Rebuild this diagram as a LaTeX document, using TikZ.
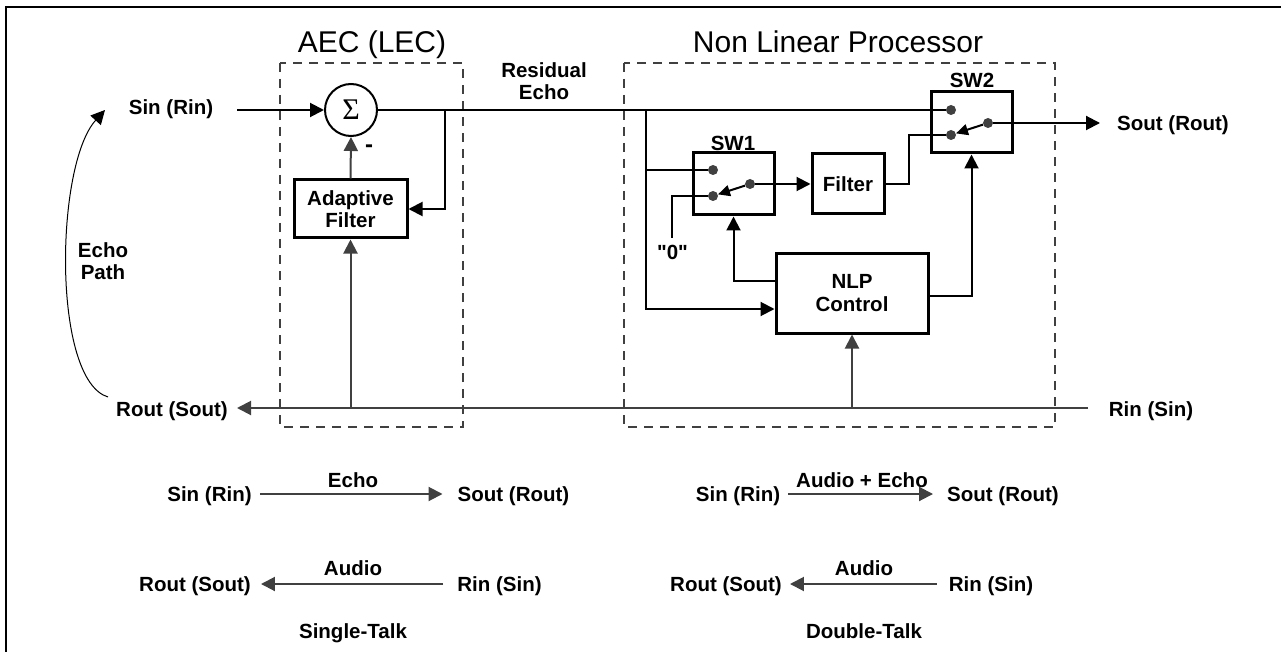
\documentclass[tikz,border=0pt]{standalone}
\usepackage{fontspec}
\setmainfont{Liberation Sans}
\newfontfamily\sigfont{Liberation Serif}
\newfontfamily\plainsans[Ligatures=TeXOff]{Liberation Sans}
\usetikzlibrary{arrows.meta,calc}
\definecolor{dg}{HTML}{404040}
\begin{document}
\begin{tikzpicture}[x=1pt,y=-1pt,
  lbl/.style={font=\bfseries\fontsize{20.5}{22.5}\selectfont, inner sep=0, text height=15pt, text depth=0.4pt},
  mlbl/.style={font=\bfseries\fontsize{20.5}{22.5}\selectfont, inner sep=0, align=center},
  ttl/.style={font=\fontsize{30}{32}\selectfont, inner sep=0, anchor=base},
  box/.style={draw, line width=3pt, inner sep=0, align=center, font=\bfseries\fontsize{20.5}{22.5}\selectfont},
  wire/.style={line width=2pt, black},
  gwire/.style={line width=2pt, dg},
  tri/.style={-{Triangle[length=14pt,width=14pt]}},
  stri/.style={-{Triangle[length=12pt,width=11pt]}},
  dot/.style={circle, fill=dg, inner sep=0, minimum size=10pt},
  dashbox/.style={dg, line width=2pt, dash pattern=on 9pt off 7pt},
]
\useasboundingbox (0,0) rectangle (1281,652);
% frame
\draw[line width=2.5pt] (6,652) -- (6,7) -- (1281,7);

% dashed containers and titles
\draw[dashbox] (280,63) rectangle (463,427);
\draw[dashbox] (624,63) rectangle (1055,427);
\node[ttl] (taec) at (372,53) {AEC (LEC)};
\node[ttl] (tnlp) at (838,53) {Non Linear Processor};

% main nodes
\node[draw, circle, line width=2pt, minimum size=52pt, inner sep=0] (sig) at (351,110) {\sigfont\fontsize{30}{30}\selectfont Σ};
\node[box, minimum width=113pt, minimum height=58pt] (af) at (350.5,209) {Adaptive\\Filter};
\node[box, minimum width=81pt, minimum height=62pt] (sw1) at (733.5,184) {};
\node[box, minimum width=72pt, minimum height=60pt] (filt) at (848,184) {Filter};
\node[box, minimum width=81pt, minimum height=61pt] (sw2) at (971.5,122.5) {};
\node[box, minimum width=152pt, minimum height=80pt] (nlp) at (852,293) {NLP\\Control};

% switch contacts
\node[dot] (s1a) at (713,170) {};
\node[dot] (s1b) at (713,196) {};
\node[dot] (s1c) at (750,184) {};
\node[dot] (s2a) at (951,110) {};
\node[dot] (s2b) at (951,135) {};
\node[dot] (s2c) at (988,123) {};

% labels
\node[lbl] (sinL) at (171,107.5) {Sin (Rin)};
\node[lbl] (routL) at (172,409) {Rout (Sout)};
\node[lbl] (rinL) at (1151,409) {Rin (Sin)};
\node[lbl] (soutL) at (1173,123) {Sout (Rout)};
\node[lbl] (sw1L) at (733,143) {SW1};
\node[lbl] (sw2L) at (972,80) {SW2};
\node[lbl] (zeroL) at (672.5,252) {\plainsans\bfseries "0"};
\node[lbl] (minus) at (369,145) {\fontsize{24}{24}\selectfont -};
\node[mlbl] (resL) at (544,81) {Residual\\Echo};
\node[mlbl] (epL) at (103,261) {Echo\\Path};

% coordinates for free ends
\coordinate (sinS) at (237,110);
\coordinate (routE) at (237,408);
\coordinate (rinS) at (1088,408);
\coordinate (soutE) at (1100,123);
\coordinate (br1) at (445,110);
\coordinate (br2) at (646,110);
\coordinate (z) at (672,238);
\coordinate (vaf) at (350.5,408);
\coordinate (vnlp) at (852,408);
\coordinate (ep1) at (108,397);
\coordinate (ep2) at (105,110);

% connectors (upper path)
\draw[wire,tri] (sinS) -- (sig.west);
\draw[wire] (sig.east) -- (s2a.west);
\draw[wire,tri] (br1) |- (af.east);
\draw[gwire,tri] (af.north) -- (sig.south);
\draw[wire] (br2) |- (s1a.west);
\draw[wire,tri] (br2) |- ($(nlp.west)+(0,16)$);
\draw[wire] (z) |- (s1b.west);
\draw[wire,stri] (s1c) -- (s1b);
\draw[wire,tri] (s1c.east) -- (filt.west);
\draw[wire] (filt.east) -- ++(23,0) |- (s2b.west);
\draw[wire,stri] (s2c) -- (s2b);
\draw[wire,tri] (s2c.east) -- (soutE);
\draw[wire,tri] ($(nlp.west)+(0,-12)$) -| (sw1.south);
\draw[wire,tri] ($(nlp.east)+(0,3)$) -| (sw2.south);

% lower return path
\draw[gwire,tri] (rinS) -- (routE);
\draw[gwire,tri] (vaf) -- (af.south);
\draw[gwire,tri] (vnlp) -- (nlp.south);

% echo path
\draw[line width=1pt,tri] (ep1) .. controls (52,380) and (55,165) .. (ep2);

% single-talk
\node[lbl] (a1) at (209.5,494) {Sin (Rin)};
\node[lbl] (a2) at (513.5,494) {Sout (Rout)};
\node[lbl] (a3) at (353,480) {Echo};
\node[lbl] (a4) at (195,584) {Rout (Sout)};
\node[lbl] (a5) at (499.5,584) {Rin (Sin)};
\node[lbl] (a6) at (353,568) {Audio};
\node[lbl] (a7) at (353,631) {Single-Talk};
\draw[gwire,tri,shorten <=8pt,shorten >=15pt] (a1.east) -- (a2.west);
\draw[gwire,tri,shorten <=14pt,shorten >=10pt] (a5.west) -- (a4.east);

% double-talk
\node[lbl] (b1) at (738,494) {Sin (Rin)};
\node[lbl] (b2) at (1003,494) {Sout (Rout)};
\node[lbl] (b3) at (862,480) {Audio + Echo};
\node[lbl] (b4) at (726,584) {Rout (Sout)};
\node[lbl] (b5) at (991,584) {Rin (Sin)};
\node[lbl] (b6) at (864,568) {Audio};
\node[lbl] (b7) at (864,631) {Double-Talk};
\draw[gwire,tri,shorten <=8pt,shorten >=14pt] (b1.east) -- (b2.west);
\draw[gwire,tri,shorten <=12pt,shorten >=8pt] (b5.west) -- (b4.east);
\end{tikzpicture}
\end{document}
